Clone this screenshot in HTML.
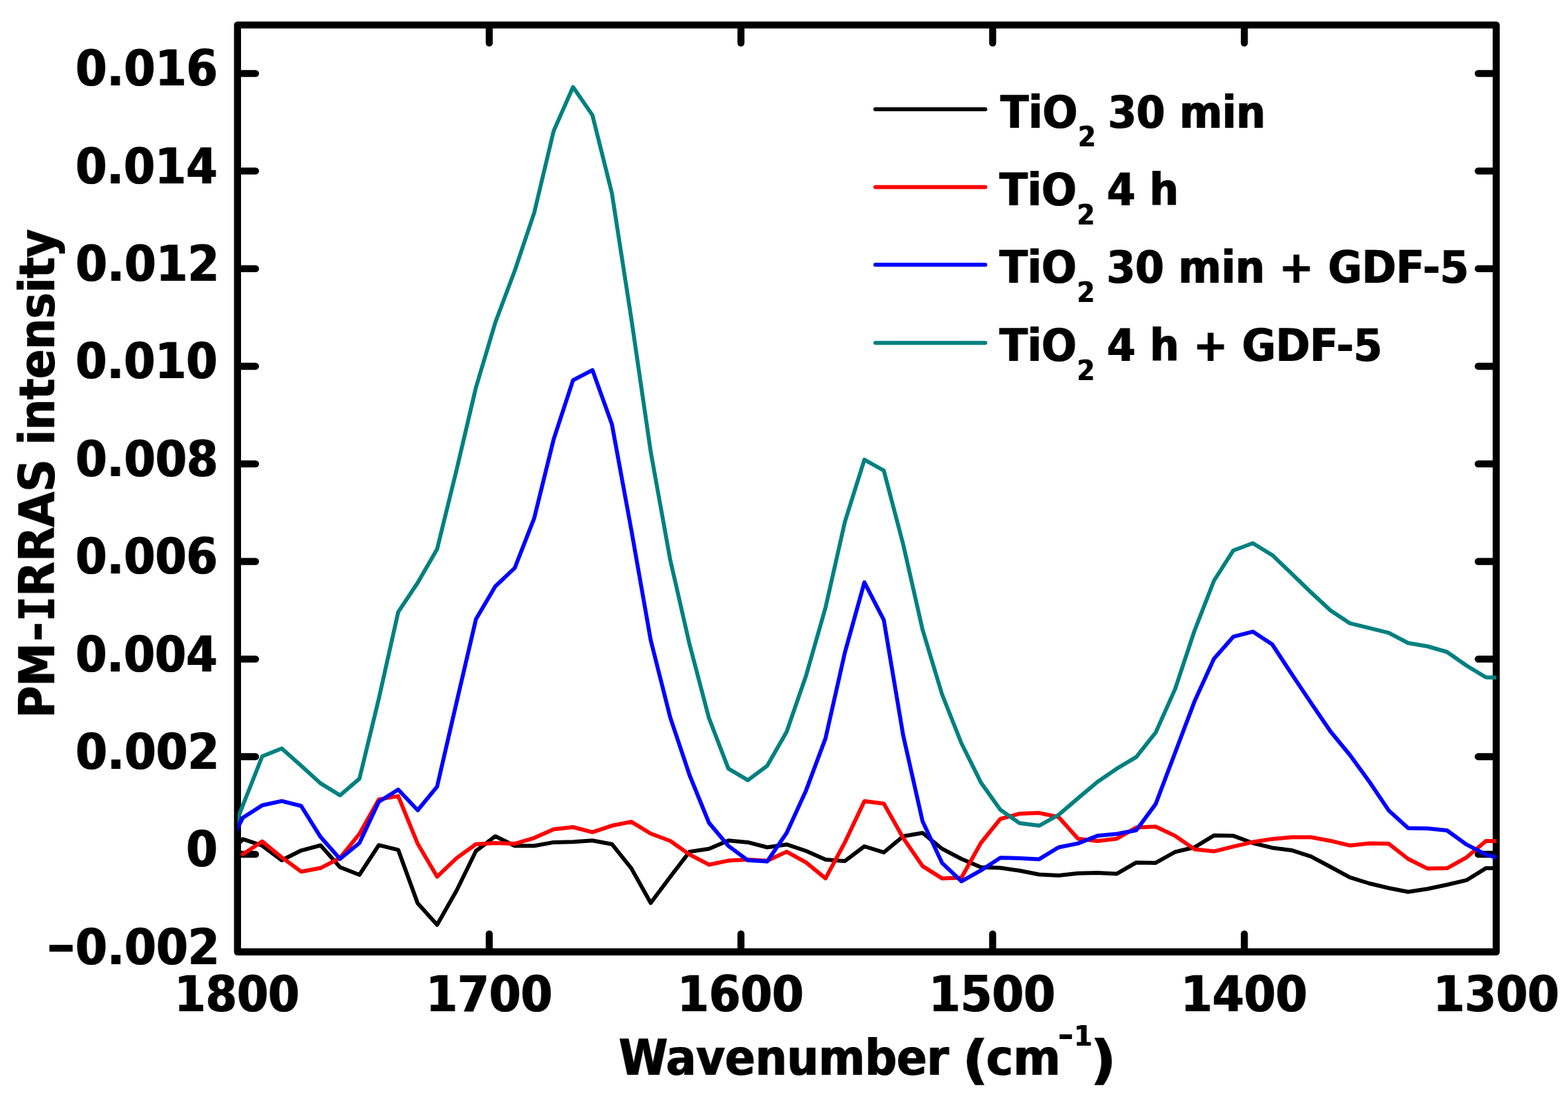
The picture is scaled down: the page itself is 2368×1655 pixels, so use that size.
<!DOCTYPE html>
<html lang="en"><head><meta charset="utf-8"><title>PM-IRRAS intensity</title>
<style>html,body{margin:0;padding:0;background:#fff}svg{display:block}text{font-family:'DejaVu Sans Condensed','DejaVu Sans','Liberation Sans',sans-serif;font-weight:bold;fill:#000}</style></head>
<body><svg width="2368" height="1655" viewBox="0 0 2368 1655">
<rect x="0" y="0" width="2368" height="1655" fill="#fff"/>
<defs><filter id="hb" x="-5%" y="-5%" width="110%" height="110%"><feMorphology operator="dilate" radius="1 0" result="d"/><feComposite in="SourceGraphic" in2="d" operator="arithmetic" k1="0" k2="0.2" k3="0.8" k4="0"/></filter><filter id="vb" x="-5%" y="-5%" width="110%" height="110%"><feMorphology operator="dilate" radius="0 1" result="d"/><feComposite in="SourceGraphic" in2="d" operator="arithmetic" k1="0" k2="0.2" k3="0.8" k4="0"/></filter><clipPath id="plot"><rect x="358.7" y="37.7" width="1900.9" height="1399.7"/></clipPath></defs>
<rect x="358.7" y="37.7" width="1900.9" height="1399.7" fill="none" stroke="#000" stroke-width="10.6" stroke-linejoin="round"/>
<g stroke="#000" stroke-width="10.6" stroke-linecap="round" fill="none">
<path d="M360.7 1290.0H385.9"/>
<path d="M2257.6 1290.0H2232.4"/>
<path d="M360.7 1142.6H385.9"/>
<path d="M2257.6 1142.6H2232.4"/>
<path d="M360.7 995.2H385.9"/>
<path d="M2257.6 995.2H2232.4"/>
<path d="M360.7 847.9H385.9"/>
<path d="M2257.6 847.9H2232.4"/>
<path d="M360.7 700.5H385.9"/>
<path d="M2257.6 700.5H2232.4"/>
<path d="M360.7 553.1H385.9"/>
<path d="M2257.6 553.1H2232.4"/>
<path d="M360.7 405.7H385.9"/>
<path d="M2257.6 405.7H2232.4"/>
<path d="M360.7 258.3H385.9"/>
<path d="M2257.6 258.3H2232.4"/>
<path d="M360.7 111.0H385.9"/>
<path d="M2257.6 111.0H2232.4"/>
<path d="M738.9 39.7V64.9"/>
<path d="M738.9 1435.4V1410.2"/>
<path d="M1119.0 39.7V64.9"/>
<path d="M1119.0 1435.4V1410.2"/>
<path d="M1499.1 39.7V64.9"/>
<path d="M1499.1 1435.4V1410.2"/>
<path d="M1879.2 39.7V64.9"/>
<path d="M1879.2 1435.4V1410.2"/>
</g>
<g clip-path="url(#plot)" fill="none" stroke-width="6" stroke-linejoin="round" stroke-linecap="round">
<polyline stroke="#000000" points="337.5,1299.0 366.8,1267.1 396.1,1277.0 425.5,1299.0 454.8,1284.3 484.1,1276.5 513.5,1309.5 542.8,1321.0 572.1,1276.2 601.4,1283.4 630.8,1364.1 660.1,1396.6 689.4,1345.0 718.8,1285.0 748.1,1262.7 777.4,1277.3 806.8,1277.3 836.1,1271.9 865.4,1271.2 894.7,1269.3 924.1,1274.7 953.4,1311.1 982.7,1363.5 1012.1,1324.2 1041.4,1286.1 1070.7,1281.7 1100.0,1269.3 1129.4,1271.9 1158.7,1279.5 1188.0,1275.2 1217.4,1285.0 1246.7,1298.0 1276.0,1300.2 1305.4,1278.0 1334.7,1287.2 1364.0,1262.7 1393.3,1257.7 1422.7,1281.7 1452.0,1297.0 1481.3,1309.6 1510.7,1310.5 1540.0,1314.8 1569.3,1320.5 1598.7,1322.0 1628.0,1318.8 1657.3,1318.1 1686.6,1319.4 1716.0,1302.4 1745.3,1302.9 1774.6,1286.5 1804.0,1279.5 1833.3,1261.6 1862.6,1262.1 1892.0,1273.0 1921.3,1280.2 1950.6,1283.9 1979.9,1293.3 2009.3,1309.0 2038.6,1324.9 2067.9,1334.0 2097.3,1341.0 2126.6,1346.7 2155.9,1342.3 2185.3,1336.0 2214.6,1329.2 2243.9,1311.1 2273.2,1311.1"/>
<polyline stroke="#ff0000" points="366.8,1290.0 396.1,1270.6 425.5,1294.7 454.8,1316.2 484.1,1310.8 513.5,1295.5 542.8,1259.2 572.1,1207.1 601.4,1202.1 630.8,1274.1 660.1,1323.8 689.4,1295.9 718.8,1274.7 748.1,1273.0 777.4,1274.1 806.8,1265.3 836.1,1252.3 865.4,1249.0 894.7,1256.6 924.1,1246.8 953.4,1240.9 982.7,1258.8 1012.1,1269.7 1041.4,1290.4 1070.7,1305.7 1100.0,1299.6 1129.4,1298.0 1158.7,1299.8 1188.0,1286.1 1217.4,1302.4 1246.7,1326.4 1276.0,1271.9 1305.4,1209.7 1334.7,1213.4 1364.0,1265.3 1393.3,1307.9 1422.7,1326.4 1452.0,1325.3 1481.3,1273.0 1510.7,1236.6 1540.0,1228.7 1569.3,1227.6 1598.7,1233.7 1628.0,1266.4 1657.3,1270.1 1686.6,1266.4 1716.0,1249.6 1745.3,1248.3 1774.6,1262.1 1804.0,1282.4 1833.3,1285.6 1862.6,1278.4 1892.0,1271.5 1921.3,1266.9 1950.6,1264.3 1979.9,1264.3 2009.3,1269.7 2038.6,1276.7 2067.9,1273.6 2097.3,1274.1 2126.6,1297.0 2155.9,1311.6 2185.3,1311.1 2214.6,1294.8 2243.9,1270.1 2273.2,1270.1"/>
<polyline stroke="#008080" points="337.5,1291.0 366.8,1216.0 396.1,1142.0 425.5,1130.2 454.8,1156.3 484.1,1182.9 513.5,1201.0 542.8,1175.9 572.1,1055.0 601.4,924.1 630.8,880.0 660.1,829.2 689.4,710.0 718.8,585.0 748.1,486.8 777.4,408.8 806.8,321.1 836.1,197.9 865.4,131.4 894.7,173.9 924.1,291.7 953.4,481.0 982.7,682.0 1012.1,845.0 1041.4,973.1 1070.7,1084.4 1100.0,1160.7 1129.4,1178.1 1158.7,1156.3 1188.0,1105.1 1217.4,1020.0 1246.7,917.5 1276.0,787.8 1305.4,694.1 1334.7,710.5 1364.0,822.0 1393.3,951.0 1422.7,1048.5 1452.0,1122.5 1481.3,1181.4 1510.7,1222.8 1540.0,1243.1 1569.3,1246.8 1598.7,1230.5 1628.0,1205.4 1657.3,1180.7 1686.6,1160.7 1716.0,1143.2 1745.3,1106.2 1774.6,1040.6 1804.0,952.3 1833.3,877.0 1862.6,831.2 1892.0,820.3 1921.3,838.2 1950.6,866.1 1979.9,894.5 2009.3,921.8 2038.6,941.2 2067.9,948.3 2097.3,955.7 2126.6,971.0 2155.9,976.0 2185.3,984.5 2214.6,1005.0 2243.9,1022.7 2273.2,1023.6"/>
<polyline stroke="#0000ff" points="337.5,1290.5 366.8,1234.8 396.1,1216.0 425.5,1209.6 454.8,1217.0 484.1,1263.8 513.5,1297.0 542.8,1273.0 572.1,1210.8 601.4,1192.3 630.8,1223.5 660.1,1187.9 689.4,1061.0 718.8,935.0 748.1,885.3 777.4,857.6 806.8,782.3 836.1,663.5 865.4,574.1 894.7,558.8 924.1,640.6 953.4,800.0 982.7,966.6 1012.1,1083.0 1041.4,1170.5 1070.7,1242.5 1100.0,1277.3 1129.4,1299.1 1158.7,1300.7 1188.0,1257.7 1217.4,1193.4 1246.7,1114.9 1276.0,985.1 1305.4,879.4 1334.7,936.1 1364.0,1110.5 1393.3,1240.3 1422.7,1303.1 1452.0,1330.8 1481.3,1314.4 1510.7,1295.2 1540.0,1295.9 1569.3,1297.4 1598.7,1279.5 1628.0,1273.6 1657.3,1262.1 1686.6,1259.2 1716.0,1253.8 1745.3,1214.1 1774.6,1136.7 1804.0,1059.1 1833.3,994.8 1862.6,961.4 1892.0,953.8 1921.3,973.0 1950.6,1017.7 1979.9,1061.3 2009.3,1104.5 2038.6,1140.0 2067.9,1180.3 2097.3,1223.9 2126.6,1250.5 2155.9,1251.0 2185.3,1254.0 2214.6,1275.2 2243.9,1290.4 2273.2,1298.5"/>
</g>
<g filter="url(#hb)">
<text><tspan x="69.7" y="1460.1" font-size="89.6" textLength="44.8" lengthAdjust="spacingAndGlyphs">−</tspan><tspan x="114.1" y="1455.7" font-size="74.7" textLength="217.5" lengthAdjust="spacingAndGlyphs">0.002</tspan></text>
<text><tspan x="281.2" y="1308.3" font-size="74.7" textLength="47.3" lengthAdjust="spacingAndGlyphs">0</tspan></text>
<text><tspan x="114.3" y="1160.9" font-size="74.7" textLength="216.8" lengthAdjust="spacingAndGlyphs">0.002</tspan></text>
<text><tspan x="114.3" y="1013.5" font-size="74.7" textLength="213.9" lengthAdjust="spacingAndGlyphs">0.004</tspan></text>
<text><tspan x="114.3" y="866.2" font-size="74.7" textLength="214.5" lengthAdjust="spacingAndGlyphs">0.006</tspan></text>
<text><tspan x="114.3" y="718.8" font-size="74.7" textLength="215.0" lengthAdjust="spacingAndGlyphs">0.008</tspan></text>
<text><tspan x="114.3" y="571.4" font-size="74.7" textLength="214.2" lengthAdjust="spacingAndGlyphs">0.010</tspan></text>
<text><tspan x="114.3" y="424.0" font-size="74.7" textLength="216.8" lengthAdjust="spacingAndGlyphs">0.012</tspan></text>
<text><tspan x="114.3" y="276.6" font-size="74.7" textLength="213.9" lengthAdjust="spacingAndGlyphs">0.014</tspan></text>
<text><tspan x="114.3" y="129.3" font-size="74.7" textLength="214.5" lengthAdjust="spacingAndGlyphs">0.016</tspan></text>
<text><tspan x="263.6" y="1526.6" font-size="74.7" textLength="188.6" lengthAdjust="spacingAndGlyphs">1800</tspan></text>
<text><tspan x="643.2" y="1526.6" font-size="74.7" textLength="191.2" lengthAdjust="spacingAndGlyphs">1700</tspan></text>
<text><tspan x="1023.1" y="1526.6" font-size="74.7" textLength="190.6" lengthAdjust="spacingAndGlyphs">1600</tspan></text>
<text><tspan x="1402.8" y="1526.6" font-size="74.7" textLength="191.0" lengthAdjust="spacingAndGlyphs">1500</tspan></text>
<text><tspan x="1783.2" y="1526.6" font-size="74.7" textLength="191.0" lengthAdjust="spacingAndGlyphs">1400</tspan></text>
<text><tspan x="2164.4" y="1526.6" font-size="74.7" textLength="190.3" lengthAdjust="spacingAndGlyphs">1300</tspan></text>
<text><tspan x="934.6" y="1622.5" font-size="74.7" textLength="498.4" lengthAdjust="spacingAndGlyphs">Wavenumber</tspan> <tspan x="1453.6" y="1627.5" font-size="80.0" textLength="39.2" lengthAdjust="spacingAndGlyphs">(</tspan><tspan x="1489.6" y="1622.5" font-size="74.7" textLength="111.9" lengthAdjust="spacingAndGlyphs">cm</tspan><tspan x="1598.0" y="1579.7" font-size="50.0" textLength="23.1" lengthAdjust="spacingAndGlyphs">-</tspan><tspan x="1622.6" y="1579.3" font-size="43.4" textLength="26.8" lengthAdjust="spacingAndGlyphs">1</tspan><tspan x="1646.6" y="1627.5" font-size="80.0" textLength="39.2" lengthAdjust="spacingAndGlyphs">)</tspan></text>
</g>
<g filter="url(#vb)">
<text transform="translate(82 1079.2) rotate(-90)"><tspan x="-4.9" y="0.0" font-size="74.7" textLength="112.8" lengthAdjust="spacingAndGlyphs">PM</tspan><tspan x="110.6" y="-3.1" font-size="74.7" textLength="29.3" lengthAdjust="spacingAndGlyphs">-</tspan><tspan x="141.1" y="0.0" font-size="74.7" font-family="'DejaVu Sans Mono',monospace" textLength="37.1" lengthAdjust="spacingAndGlyphs">I</tspan><tspan x="178.5" y="0.0" font-size="74.7" textLength="207.2" lengthAdjust="spacingAndGlyphs">RRAS</tspan> <tspan x="407.5" y="0.0" font-size="74.7" textLength="325.7" lengthAdjust="spacingAndGlyphs">intensity</tspan></text>
</g>
<g filter="url(#hb)">
<text><tspan x="1511.0" y="192.8" font-size="68.5" textLength="116.4" lengthAdjust="spacingAndGlyphs">TiO</tspan><tspan x="1628.4" y="221.0" font-size="42.0" textLength="26.0" lengthAdjust="spacingAndGlyphs">2</tspan> <tspan x="1673.2" y="192.8" font-size="68.5" textLength="238.1" lengthAdjust="spacingAndGlyphs">30 min</tspan></text>
<text><tspan x="1509.5" y="310.4" font-size="68.5" textLength="116.4" lengthAdjust="spacingAndGlyphs">TiO</tspan><tspan x="1626.9" y="338.9" font-size="42.0" textLength="26.0" lengthAdjust="spacingAndGlyphs">2</tspan> <tspan x="1671.7" y="310.4" font-size="68.5" textLength="108.3" lengthAdjust="spacingAndGlyphs">4 h</tspan></text>
<text><tspan x="1509.5" y="426.9" font-size="68.5" textLength="116.4" lengthAdjust="spacingAndGlyphs">TiO</tspan><tspan x="1626.9" y="456.4" font-size="42.0" textLength="26.0" lengthAdjust="spacingAndGlyphs">2</tspan> <tspan x="1671.2" y="426.9" font-size="68.5" textLength="547.0" lengthAdjust="spacingAndGlyphs">30 min + GDF-5</tspan></text>
<text><tspan x="1509.5" y="545.2" font-size="68.5" textLength="116.4" lengthAdjust="spacingAndGlyphs">TiO</tspan><tspan x="1626.9" y="573.7" font-size="42.0" textLength="26.0" lengthAdjust="spacingAndGlyphs">2</tspan> <tspan x="1671.7" y="545.2" font-size="68.5" textLength="415.7" lengthAdjust="spacingAndGlyphs">4 h + GDF-5</tspan></text>
</g>
<path d="M1322 165.1H1488" stroke="#000000" stroke-width="6" stroke-linecap="round" fill="none"/>
<path d="M1322 282.5H1488" stroke="#ff0000" stroke-width="6" stroke-linecap="round" fill="none"/>
<path d="M1322 399.7H1488" stroke="#0000ff" stroke-width="6" stroke-linecap="round" fill="none"/>
<path d="M1322 517.7H1488" stroke="#008080" stroke-width="6" stroke-linecap="round" fill="none"/>
</svg></body></html>
